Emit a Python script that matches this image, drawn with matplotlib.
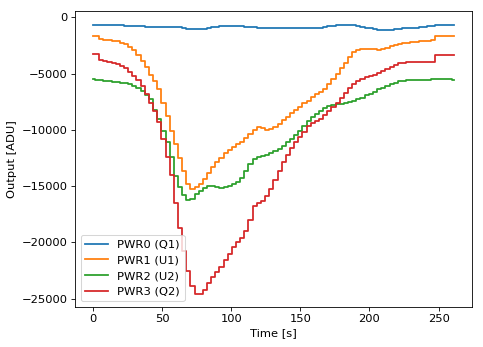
"""
Power detector output during the cooldown run
"""

import matplotlib
matplotlib.use('Agg')
import matplotlib.pyplot as plt
import numpy as np

# sample times [s]
time_s = np.arange(0, 262, 3)

# detector outputs [ADU], one value per sample
pwr0_q1 = [
    -650, -650, -660, -680, -690, -700, -710, -720, -740, -750,
    -780, -800, -820, -840, -860, -860, -860, -860, -860, -860,
    -870, -900, -950, -1020, -1070, -1090, -1080, -1030, -950, -880,
    -830, -800, -790, -790, -800, -800, -820, -850, -880, -900,
    -920, -930, -940, -950, -950, -940, -930, -920, -920, -920,
    -920, -920, -920, -920, -920, -920, -900, -820, -760, -720,
    -700, -690, -700, -720, -760, -840, -920, -1000, -1070, -1100,
    -1120, -1130, -1100, -1060, -1020, -990, -960, -940, -920, -900,
    -870, -820, -770, -700, -680, -670, -680, -680,
]
pwr1_u1 = [
    -1670, -1670, -1960, -1980, -2020, -2080, -2150, -2250, -2420, -2650,
    -2950, -3350, -3850, -4450, -5100, -5650, -6400, -7600, -8800, -10100,
    -11300, -12500, -13700, -14800, -15250, -15100, -14800, -14400, -13800, -13300,
    -12900, -12500, -12100, -11800, -11550, -11300, -11050, -10700, -10350, -10000,
    -9770, -9850, -10000, -9900, -9770, -9500, -9150, -8850, -8550, -8250,
    -7950, -7650, -7450, -7100, -6850, -6650, -6400, -5900, -5500, -5000,
    -4550, -4050, -3550, -3100, -2950, -2820, -2800, -2820, -2850, -2900,
    -2800, -2700, -2580, -2450, -2350, -2300, -2250, -2200, -2170, -2140,
    -2100, -2080, -2030, -1660, -1660, -1660, -1660, -1660,
]
pwr2_u2 = [
    -5520, -5550, -5600, -5650, -5700, -5730, -5760, -5800, -5870, -5950,
    -6100, -6300, -6550, -6900, -7300, -8200, -9000, -10100, -11100, -12400,
    -14100, -15100, -15750, -16250, -16150, -15700, -15400, -15200, -14950, -14950,
    -15100, -15150, -15100, -14950, -14800, -14600, -14300, -13700, -13000, -12600,
    -12450, -12350, -12200, -12050, -11850, -11700, -11400, -11100, -10800, -10450,
    -10100, -9700, -9200, -8900, -8600, -8300, -8050, -7850, -7800, -7750,
    -7700, -7600, -7500, -7400, -7300, -7150, -6950, -6800, -6600, -6400,
    -6250, -6100, -5950, -5800, -5700, -5650, -5620, -5600, -5580, -5580,
    -5550, -5550, -5520, -5520, -5500, -5520, -5520, -5550,
]
pwr3_q2 = [
    -3300, -3300, -3830, -3900, -3950, -4050, -4150, -4300, -4550, -4850,
    -5250, -5600, -6100, -6800, -7600, -8300, -9300, -10800, -12400, -14000,
    -16500, -18700, -20800, -22500, -23900, -24550, -24550, -24200, -23600, -23100,
    -22600, -22200, -21600, -21000, -20400, -20000, -19600, -19000, -18000, -16800,
    -16500, -16300, -15900, -15300, -14500, -13700, -12900, -12200, -11600, -11100,
    -10600, -10200, -9700, -9400, -9200, -9000, -8700, -8350, -8000, -7600,
    -7200, -6700, -6250, -5950, -5700, -5500, -5350, -5250, -5100, -4950,
    -4800, -4600, -4400, -4250, -4100, -4050, -4000, -4000, -4000, -4000,
    -3980, -3980, -3960, -3330, -3330, -3330, -3330, -3330,
]

labels = ['PWR0 (Q1)', 'PWR1 (U1)', 'PWR2 (U2)', 'PWR3 (Q2)']
series = [pwr0_q1, pwr1_u1, pwr2_u2, pwr3_q2]

plt.rcParams['font.size'] = 11

fig, ax = plt.subplots(figsize=(6.44, 4.627), dpi=75)
fig.subplots_adjust(left=0.155, right=0.977, top=0.968, bottom=0.115)

for values, label in zip(series, labels):
    ax.plot(time_s, values, drawstyle='steps-mid', linewidth=1.7, label=label)

ax.set_xlabel('Time [s]')
ax.set_ylabel('Output [ADU]')
ax.set_xticks([0, 50, 100, 150, 200, 250])
ax.set_yticks([0, -5000, -10000, -15000, -20000, -25000])
ax.legend(loc='lower left')

plt.savefig('out.png', dpi=75)
plt.close()
